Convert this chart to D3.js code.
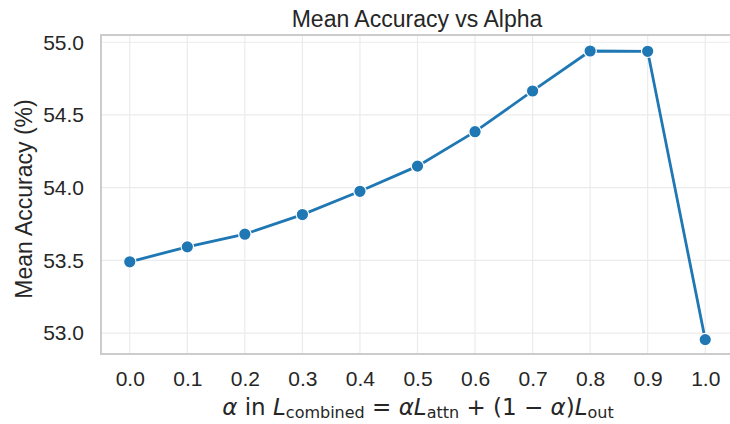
<!DOCTYPE html>
<html>
<head>
<meta charset="utf-8">
<script src="https://cdn.jsdelivr.net/npm/d3@7"></script>
<style>
  body { margin: 0; background: #fff; }
  svg text { font-family: "Liberation Sans", Arial, sans-serif; fill: #262626; }
</style>
</head>
<body>
<div id="chart"></div>
<script>
var alphas = [0.0, 0.1, 0.2, 0.3, 0.4, 0.5, 0.6, 0.7, 0.8, 0.9, 1.0];
var accuracy = [53.49, 53.593, 53.68, 53.815, 53.975, 54.148, 54.385, 54.665, 54.94, 54.938, 52.955];
var yTicks = [53.0, 53.5, 54.0, 54.5, 55.0];

var width = 730, height = 424;
var margin = {top: 35, right: -4, bottom: 70, left: 101};

var svg = d3.select("#chart").append("svg")
    .attr("width", width)
    .attr("height", height);

var x = d3.scaleLinear().domain([-0.05, 1.05]).range([margin.left, width - margin.right]);
var y = d3.scaleLinear().domain([52.856, 55.05]).range([height - margin.bottom, margin.top]);

// grid
svg.append("g").selectAll("line").data(alphas).enter().append("line")
    .attr("x1", d => x(d)).attr("x2", d => x(d))
    .attr("y1", margin.top).attr("y2", height - margin.bottom)
    .attr("stroke", "#ebebeb").attr("stroke-width", 1.2);
svg.append("g").selectAll("line").data(yTicks).enter().append("line")
    .attr("x1", margin.left).attr("x2", width - margin.right)
    .attr("y1", d => y(d)).attr("y2", d => y(d))
    .attr("stroke", "#ebebeb").attr("stroke-width", 1.2);

// spines
svg.append("rect")
    .attr("x", margin.left).attr("y", margin.top)
    .attr("width", width - margin.right - margin.left)
    .attr("height", height - margin.bottom - margin.top)
    .attr("fill", "none").attr("stroke", "#cccccc").attr("stroke-width", 2);

// axes (labels only)
var xAxis = svg.append("g")
    .attr("transform", "translate(0," + (height - margin.bottom) + ")")
    .call(d3.axisBottom(x).tickValues(alphas).tickFormat(d3.format(".1f")).tickSize(0).tickPadding(17));
var yAxis = svg.append("g")
    .attr("transform", "translate(" + margin.left + ",0)")
    .call(d3.axisLeft(y).tickValues(yTicks).tickFormat(d3.format(".1f")).tickSize(0).tickPadding(17));
[xAxis, yAxis].forEach(function (a) {
  a.select(".domain").remove();
  a.selectAll("text").attr("font-size", 21).attr("font-family", "Liberation Sans, Arial, sans-serif").attr("fill", "#262626");
});

// line + markers
var line = d3.line().x((d, i) => x(alphas[i])).y(d => y(d));
svg.append("path").datum(accuracy)
    .attr("d", line)
    .attr("fill", "none").attr("stroke", "#1f77b4").attr("stroke-width", 2.8);
svg.append("g").selectAll("circle").data(accuracy).enter().append("circle")
    .attr("cx", (d, i) => x(alphas[i])).attr("cy", d => y(d))
    .attr("r", 6.2).attr("fill", "#1f77b4").attr("stroke", "#fff").attr("stroke-width", 1.2);

// title
svg.append("text")
    .attr("x", 417).attr("y", 27)
    .attr("text-anchor", "middle").attr("font-size", 23)
    .text("Mean Accuracy vs Alpha");

// y label
svg.append("text")
    .attr("transform", "translate(32,199) rotate(-90)")
    .attr("text-anchor", "middle").attr("font-size", 23)
    .text("Mean Accuracy (%)");

// x label with math
var xl = svg.append("text")
    .attr("x", 418).attr("y", 415)
    .attr("text-anchor", "middle").attr("font-size", 23)
    .style("font-family", "DejaVu Sans, sans-serif");
xl.append("tspan").attr("font-style", "italic").text("α");
xl.append("tspan").text(" in ");
xl.append("tspan").attr("font-style", "italic").text("L");
xl.append("tspan").attr("font-size", 16).attr("dy", 3).text("combined");
xl.append("tspan").attr("dy", -3).text(" = ");
xl.append("tspan").attr("font-style", "italic").text("αL");
xl.append("tspan").attr("font-size", 16).attr("dy", 3).text("attn");
xl.append("tspan").attr("dy", -3).text(" + (1 − ");
xl.append("tspan").attr("font-style", "italic").text("α");
xl.append("tspan").text(")");
xl.append("tspan").attr("font-style", "italic").text("L");
xl.append("tspan").attr("font-size", 16).attr("dy", 3).text("out");
</script>
</body>
</html>
